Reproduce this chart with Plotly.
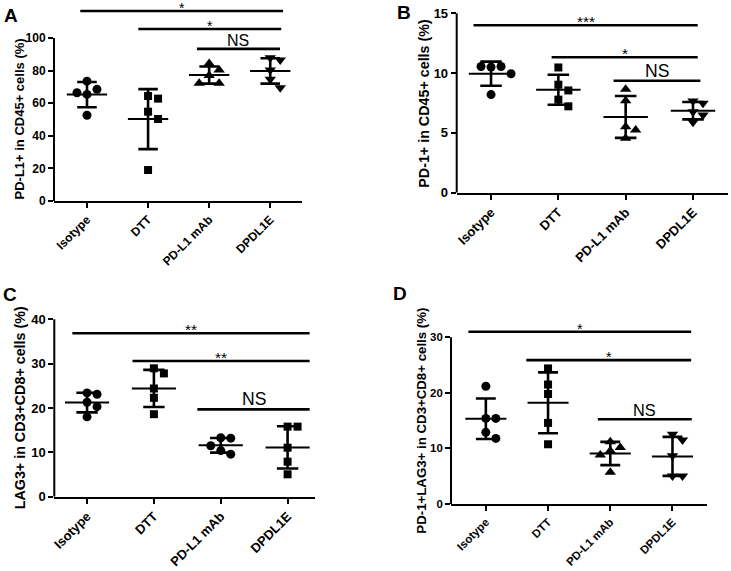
import numpy as np
import plotly.graph_objects as go

groups = ["Isotype", "DTT", "PD-L1 mAb", "DPDL1E"]

# A : PD-L1+ in CD45+ cells (%)
a_isotype = [73.5, 65.4, 68.5, 66.4, 52.6]
a_dtt = [64.4, 62.8, 54.8, 50.3, 19.0]
a_pdl1_mab = [84.4, 80.4, 77.0, 72.3, 72.3]
a_dpdl1e = [87.9, 86.5, 80.4, 74.7, 69.5]

# B : PD-1+ in CD45+ cells (%)
b_isotype = [10.5, 10.55, 10.55, 9.95, 8.2]
b_dtt = [10.47, 9.03, 8.55, 7.78, 7.22]
b_pdl1_mab = [8.65, 7.69, 5.52, 5.24, 4.55]
b_dpdl1e = [7.67, 7.47, 6.77, 6.5, 5.89]

# C : LAG3+ in CD3+CD8+ cells (%)
c_isotype = [21.3, 23.4, 23.1, 20.3, 18.0]
c_dtt = [28.95, 27.8, 24.4, 22.3, 18.6]
c_pdl1_mab = [13.3, 13.2, 11.5, 10.4, 9.6]
c_dpdl1e = [15.8, 15.8, 11.05, 7.9, 5.05]

# D : PD-1+LAG3+ in CD3+CD8+ cells (%)
d_isotype = [21.2, 15.4, 15.4, 12.9, 11.8]
d_dtt = [24.4, 21.5, 19.8, 14.6, 10.75]
d_pdl1_mab = [11.2, 10.15, 9.6, 8.8, 5.7]
d_dpdl1e = [12.55, 11.5, 8.7, 5.05, 5.05]

sig_a = ["*", "*", "NS"]
sig_b = ["***", "*", "NS"]
sig_c = ["**", "**", "NS"]
sig_d = ["*", "*", "NS"]

W, H = 731, 571
FONT = "Liberation Sans, Arial, sans-serif"

panels = [
    dict(letter="A", data=[a_isotype, a_dtt, a_pdl1_mab, a_dpdl1e], sig=sig_a,
         title="PD-L1+ in CD45+ cells (%)",
         symbols=["circle", "square", "triangle-up", "triangle-down"],
         xpx=(54, 302), xr=(-0.54, 3.52), y0px=201, ytoppx=38, ytop=100, dtick=20, ymax=120,
         bars=[(-0.11, 3.21, 116.6), (0.84, 3.18, 105.5), (1.8, 3.16, 93.3)],
         tshift=-35, lpos=(2, 15), scale=1.0, tick=12),
    dict(letter="B", data=[b_isotype, b_dtt, b_pdl1_mab, b_dpdl1e], sig=sig_b,
         title="PD-1+ in CD45+ cells (%)",
         symbols=["circle", "square", "triangle-up", "triangle-down"],
         xpx=(456.7, 728), xr=(-0.51, 3.52), y0px=192.7, ytoppx=13.3, ytop=15, dtick=5, ymax=15.6,
         bars=[(-0.26, 3.07, 14.0), (0.9, 3.07, 11.33), (1.82, 3.11, 9.36)],
         tshift=-33, lpos=(395, 13), scale=1.1, tick=13),
    dict(letter="C", data=[c_isotype, c_dtt, c_pdl1_mab, c_dpdl1e], sig=sig_c,
         title="LAG3+ in CD3+CD8+ cells (%)",
         symbols=["circle", "square", "circle", "square"],
         xpx=(54.3, 315), xr=(-0.49, 3.41), y0px=496.7, ytoppx=319.3, ytop=40, dtick=10, ymax=41,
         bars=[(-0.22, 3.33, 36.84), (0.68, 3.33, 30.6), (1.65, 3.33, 19.7)],
         tshift=-34, lpos=(1, 294), scale=1.1, tick=13),
    dict(letter="D", data=[d_isotype, d_dtt, d_pdl1_mab, d_dpdl1e], sig=sig_d,
         title="PD-1+LAG3+ in CD3+CD8+ cells (%)",
         symbols=["circle", "square", "triangle-up", "triangle-down"],
         xpx=(451, 706.7), xr=(-0.56, 3.55), y0px=504, ytoppx=337.3, ytop=30, dtick=10, ymax=32,
         bars=[(-0.28, 3.3, 31.0), (0.65, 3.3, 25.9), (1.8, 3.31, 15.25)],
         tshift=-29, lpos=(391, 293), scale=1.02, tick=11.4),
]

marker_size = {"circle": 9, "square": 8, "triangle-up": 10, "triangle-down": 10}


def dodge(values, ppu, ppx, d=8.5, step=10):
    # petit beeswarm : décale horizontalement les points qui se chevauchent
    placed, xs = [], []
    for v in values:
        for k in [0, 1, -1, 2, -2, 3, -3]:
            ok = all(abs((v - pv) * ppu) >= d or abs((k - pk) * step) >= d for pv, pk in placed)
            if ok:
                break
        placed.append((v, k))
        xs.append(k * step / ppx)
    return xs


fig = go.Figure()
shapes, annotations, layout = [], [], {}

for n, p in enumerate(panels, start=1):
    xa = "x" if n == 1 else f"x{n}"
    ya = "y" if n == 1 else f"y{n}"
    ppu = (p["y0px"] - p["ytoppx"]) / p["ytop"]
    ppx = (p["xpx"][1] - p["xpx"][0]) / (p["xr"][1] - p["xr"][0])
    s = p["scale"]
    tickfont = dict(family=FONT, size=p["tick"], color="black", weight="bold")

    err_x, err_y, mean_x, mean_y = [], [], [], []
    for i, vals in enumerate(p["data"]):
        vals = np.array(vals)
        m, sd = vals.mean(), vals.std(ddof=1)
        offs = dodge(vals, ppu, ppx)
        sym = p["symbols"][i]
        fig.add_trace(go.Scatter(x=[i + o for o in offs], y=vals, mode="markers",
                                 marker=dict(symbol=sym, size=marker_size[sym], color="black"),
                                 xaxis=xa, yaxis=ya, showlegend=False, cliponaxis=False))
        err_x += [i, i, None, i - 0.16, i + 0.16, None, i - 0.16, i + 0.16, None]
        err_y += [m - sd, m + sd, None, m + sd, m + sd, None, m - sd, m - sd, None]
        mean_x += [i - 0.33, i + 0.33, None]
        mean_y += [m, m, None]
    fig.add_trace(go.Scatter(x=err_x, y=err_y, mode="lines", line=dict(color="black", width=2.6),
                             xaxis=xa, yaxis=ya, showlegend=False))
    fig.add_trace(go.Scatter(x=mean_x, y=mean_y, mode="lines", line=dict(color="black", width=2),
                             xaxis=xa, yaxis=ya, showlegend=False))

    top_px = p["y0px"] - p["ymax"] * ppu
    layout["xaxis" if n == 1 else f"xaxis{n}"] = dict(
        domain=[p["xpx"][0] / W, p["xpx"][1] / W], range=list(p["xr"]), anchor=ya, automargin=False,
        showline=True, linecolor="black", linewidth=2, showgrid=False, zeroline=False,
        tickmode="array", tickvals=[0, 1, 2, 3], ticktext=groups, tickangle=-45,
        ticks="outside", ticklen=5, tickwidth=2, tickcolor="black", tickfont=tickfont)
    layout["yaxis" if n == 1 else f"yaxis{n}"] = dict(
        domain=[1 - p["y0px"] / H, 1 - top_px / H], range=[0, p["ymax"]], anchor=xa, automargin=False,
        showline=False, showgrid=False, zeroline=False,
        tickmode="array", tickvals=list(np.arange(0, p["ytop"] + 0.1, p["dtick"])),
        ticks="outside", ticklen=5, tickwidth=2, tickcolor="black", tickfont=tickfont)

    # axe y : s'arrête au dernier tick
    shapes.append(dict(type="line", xref=f"{xa} domain", yref=ya, x0=0, x1=0, y0=0, y1=p["ytop"],
                       line=dict(color="black", width=2)))
    annotations.append(dict(text=p["title"], xref=f"{xa} domain", yref=ya, x=0, y=p["ytop"] / 2,
                            xanchor="center", yanchor="middle",
                            xshift=p["tshift"], textangle=-90, showarrow=False,
                            font=dict(family=FONT, size=13 * s, color="black", weight="bold")))
    annotations.append(dict(text=p["letter"], xref="paper", yref="paper",
                            x=p["lpos"][0] / W, y=1 - p["lpos"][1] / H, xanchor="left", yanchor="middle",
                            showarrow=False, font=dict(family=FONT, size=19, color="black", weight="bold")))

    # barres de significativité
    for (x0, x1, yb), lab in zip(p["bars"], p["sig"]):
        shapes.append(dict(type="line", xref=xa, yref=ya, x0=x0, x1=x1, y0=yb, y1=yb,
                           line=dict(color="black", width=2.6)))
        ns = lab == "NS"
        annotations.append(dict(text=lab, xref=xa, yref=ya, x=(x0 + x1) / 2, y=yb,
                                yanchor="bottom", yshift=-2 if ns else -7, showarrow=False,
                                font=dict(family=FONT, size=(16 if ns else 14) * s, color="black")))

fig.update_layout(width=W, height=H, margin=dict(l=0, r=0, t=0, b=0),
                  paper_bgcolor="white", plot_bgcolor="white",
                  shapes=shapes, annotations=annotations, **layout)

# pas de marge autour de la figure dans la page, pas de barre d'outils
fig.write_html("out.html", config={"displayModeBar": False},
               post_script="document.body.style.margin='0';")
